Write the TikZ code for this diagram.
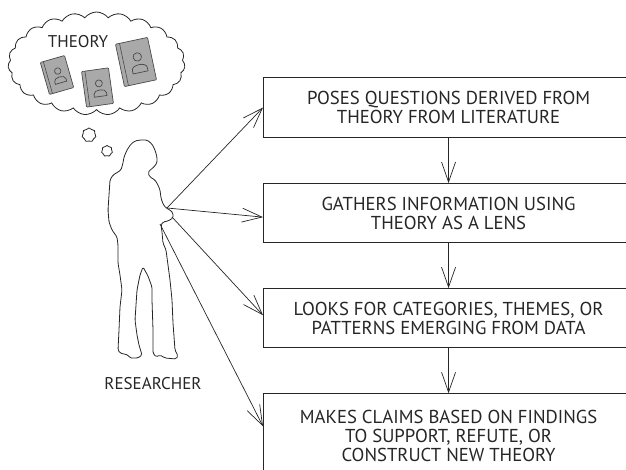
\documentclass[tikz,border=0pt]{standalone}
\usepackage{fontspec}
\setmainfont{PT Sans}
\usepackage{tikz}
\usetikzlibrary{arrows.meta,positioning,calc,shapes.symbols}
\definecolor{ink}{HTML}{262626}
\definecolor{bookfill}{HTML}{A9A9A9}
\definecolor{bookline}{HTML}{4A4A4A}
\tikzset{
  stepbox/.style ={draw=ink,line width=1.1pt,minimum width=370pt,inner sep=0pt,align=center,text=ink,font=\fontsize{18.7}{19.2}\selectfont},
  flow/.style    ={ink,line width=0.7pt,-{Straight Barb[length=20pt,width=14pt,line width=0.7pt]}},
  puff/.style    ={cloud,draw=ink,line width=0.8pt,inner sep=0pt},
  caption/.style ={text=ink,font=\fontsize{17}{18}\selectfont},
  outline/.style ={draw=ink,line width=0.8pt,rounded corners=1.5pt},
  book/.pic={
    \draw[bookline,fill=bookfill,line width=0.7pt,rounded corners=0.8pt] (-14,-18.5) rectangle (14,18.5);
    \draw[bookline,line width=0.6pt] (-10.5,-18.5) -- (-10.5,18.5);
    \draw[bookline,line width=0.7pt] (2,-4) circle [radius=3.6];
    \draw[bookline,line width=0.7pt] (-4.5,9.5) -- (-4.5,6.5) .. controls (-4.5,1.5) and (8.5,1.5) .. (8.5,6.5) -- (8.5,9.5) -- cycle;
  },
}

\begin{document}
\begin{tikzpicture}[x=1pt,y=-1pt]
  \useasboundingbox (0,0) rectangle (626,470);
  \clip (0,0) rectangle (626,470);

  % the four steps
  \node[stepbox,minimum height=60pt,anchor=north west] (pose) at (263,77)
       {POSES QUESTIONS DERIVED FROM\\THEORY FROM LITERATURE};
  \node[stepbox,minimum height=59pt,below=45pt of pose] (gather)
       {GATHERS INFORMATION USING\\THEORY AS A LENS};
  \node[stepbox,minimum height=59pt,below=45pt of gather] (look)
       {LOOKS FOR CATEGORIES, THEMES, OR\\PATTERNS EMERGING FROM DATA};
  \node[stepbox,minimum height=84pt,below=45pt of look] (claim)
       {MAKES CLAIMS BASED ON FINDINGS\\TO SUPPORT, REFUTE, OR\\CONSTRUCT NEW THEORY};
  \foreach \a/\b in {pose/gather,gather/look,look/claim}
     \draw[flow] (\a) -- (\b);

  % thought bubble with the books
  \node[puff,cloud puffs=23,cloud puff arc=105,aspect=1.7,minimum width=177pt,minimum height=103pt] (thought) at (96.5,63.5) {};
  \node[puff,cloud puffs=7,cloud puff arc=120,minimum size=14pt] (puffA) at (89,135) {};
  \node[puff,cloud puffs=7,cloud puff arc=120,minimum size=11pt] (puffB) at (107,151) {};
  \node[caption] (theory) at (78,41.5) {THEORY};
  \pic[rotate=16,scale=0.9] at (57,75) {book};
  \pic[rotate=8,scale=0.97] at (97.5,87.5) {book};
  \pic[rotate=12,scale=1.17] at (136,62) {book};

  % researcher
  \draw[outline] (140,140) -- (147,140) -- (152,144) -- (155,150) -- (157,157) -- (157,163)
     -- (153,168) -- (150,170) -- (148,173) -- (150,177) -- (155,180) -- (158,185) -- (160,190)
     -- (161,198) -- (163,204) -- (166,208) -- (170,210) -- (173,213) -- (173,218) -- (168,221)
     -- (163,222) -- (161,225) -- (162,232) -- (163,243) -- (166,250) -- (168,265) -- (170,280)
     -- (172,300) -- (173,323) -- (175,350) -- (178,356) -- (176,359) -- (165,358) -- (160,355)
     -- (156,357) -- (153,353) -- (153,330) -- (152,300) -- (152,287) -- (148,276) -- (143,267)
     -- (140,275) -- (137,290) -- (136,305) -- (135,320) -- (137,335) -- (139,345) -- (142,355)
     -- (138,358) -- (130,358) -- (128,355) -- (120,353) -- (118,350) -- (119,330) -- (120,307)
     -- (122,290) -- (120,275) -- (118,263) -- (118,245) -- (117,237) -- (112,230) -- (109,222)
     -- (108,210) -- (109,195) -- (110,180) -- (113,175) -- (118,172) -- (121,170) -- (123,163)
     -- (124,157) -- (127,150) -- (131,144) -- (135,141) -- cycle;
  \node[caption] (researcher) at (153,384) {RESEARCHER};

  \coordinate (hand)  at (167,208);
  \coordinate (wrist) at (172,217);
  \coordinate (hip)   at (160,224);
  \draw[flow] (hand)  -- (pose.west);
  \draw[flow] (hand)  -- ([yshift=-4pt]gather.west);
  \draw[flow] (wrist) -- ([yshift=3pt]look.west);
  \draw[flow] (hip)   -- ([yshift=-33pt]claim.north west);
\end{tikzpicture}
\end{document}
